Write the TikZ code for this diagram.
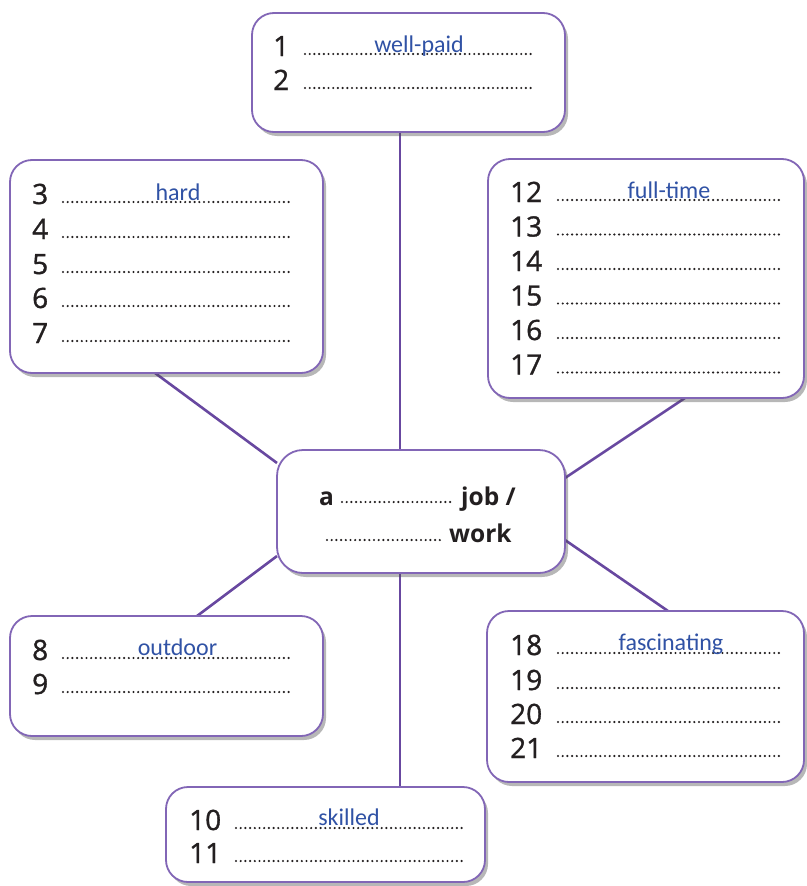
\documentclass[tikz,border=0pt]{standalone}
\usepackage{fontspec}
\setmainfont{Open Sans}
\newfontfamily\numfont[FakeBold=1.2]{Open Sans}
\newfontfamily\hwfont{Carlito}
\usetikzlibrary{shadows,backgrounds,calc}
\definecolor{boxline}{RGB}{130,102,182}
\definecolor{conn}{RGB}{104,72,160}
\definecolor{hand}{RGB}{48,82,165}
\definecolor{txt}{RGB}{35,31,32}
\begin{document}
\begin{tikzpicture}[x=1pt,y=-1pt,
  card/.style={draw=boxline, line width=1.8pt, fill=white, rounded corners=22pt,
    drop shadow={shadow xshift=3pt, shadow yshift=-4pt, opacity=0.4, fill=black!70},
    inner sep=0pt, outer sep=0pt, anchor=north west},
  num/.style={anchor=base west, inner sep=0pt, text=txt, font=\numfont\fontsize{28}{30}\selectfont},
  dotline/.style={line width=2.4pt, line cap=round, dash pattern=on 0pt off 4.7pt, draw=txt},
  hw/.style={anchor=base, inner sep=0pt, text=hand, font=\hwfont\fontsize{24}{26}\selectfont},
  bigb/.style={anchor=base west, inner sep=0pt, text=txt, font=\bfseries\fontsize{24.5}{26}\selectfont},
  connline/.style={draw=conn, line width=2.6pt}]
\useasboundingbox (0,0) rectangle (806,886);

% boxes
\node[card, minimum width=313pt, minimum height=119pt] (btop) at (252,13) {};
\node[card, minimum width=313pt, minimum height=213pt] (bleft) at (10,160) {};
\node[card, minimum width=316pt, minimum height=239pt] (bright) at (488,159) {};
\node[card, minimum width=288pt, minimum height=123pt, rounded corners=26pt] (bctr) at (277,450) {};
\node[card, minimum width=313pt, minimum height=120pt] (bbl) at (10,616) {};
\node[card, minimum width=317pt, minimum height=171pt] (bbr) at (487,611) {};
\node[card, minimum width=319pt, minimum height=95pt] (bbot) at (166,787) {};

% connectors
\begin{scope}[on background layer]
\draw[connline] ($(btop.south west)+(148,0)$) -- ($(bctr.north west)+(123,0)$);
\draw[connline] ($(bleft.south west)+(145,0)$) -- ($(bctr.north west)+(0,13)$);
\draw[connline] ($(bright.south west)+(197,0)$) -- ($(bctr.north east)+(0,28)$);
\draw[connline] ($(bctr.south west)+(0,-17)$) -- ($(bbl.north west)+(187,0)$);
\draw[connline] ($(bctr.south east)+(0,-33)$) -- ($(bbr.north west)+(181,0)$);
\draw[connline] ($(bctr.south west)+(123,0)$) -- ($(bbot.north west)+(234,0)$);
\end{scope}

% top box rows
\foreach \n/\y in {1/56,2/90} {
  \node[num] (n\n) at (273,\y) {\n};
  \draw[dotline] (305,\y-2) -- (532,\y-2);
}
% left box rows
\foreach \n/\y in {3/204,4/239,5/274,6/308,7/343} {
  \node[num] (n\n) at (32,\y) {\n};
  \draw[dotline] (63,\y-2) -- (291,\y-2);
}
% right box rows
\foreach \n/\y in {12/202,13/236.5,14/271,15/305.5,16/340,17/374.5} {
  \node[num] (n\n) at (510,\y) {\n};
  \draw[dotline] (558,\y-2) -- (783,\y-2);
}
% bottom-left rows
\foreach \n/\y in {8/660,9/694} {
  \node[num] (n\n) at (32,\y) {\n};
  \draw[dotline] (63,\y-2) -- (291,\y-2);
}
% bottom-right rows
\foreach \n/\y in {18/655,19/690,20/724,21/758} {
  \node[num] (n\n) at (510,\y) {\n};
  \draw[dotline] (558,\y-2) -- (783,\y-2);
}
% bottom rows
\foreach \n/\y in {10/830,11/863} {
  \node[num] (n\n) at (189,\y) {\n};
  \draw[dotline] (236,\y-2) -- (462,\y-2);
}

% handwritten answers
\node[hw] (a1) at (419,52) {well-paid};
\node[hw] (a3) at (178,200) {hard};
\node[hw] (a12) at (669,198) {full-time};
\node[hw] (a8) at (177.5,655) {outdoor};
\node[hw] (a18) at (671,650) {fascinating};
\node[hw] (a10) at (349,825) {skilled};

% centre text
\node[bigb] (ca) at (319,505) {a};
\draw[dotline] (342,502) -- (453,502);
\node[bigb] (cjob) at (461,505) {job /};
\draw[dotline] (327,540) -- (440,540);
\node[bigb] (cwork) at (449,542) {work};
\end{tikzpicture}
\end{document}
